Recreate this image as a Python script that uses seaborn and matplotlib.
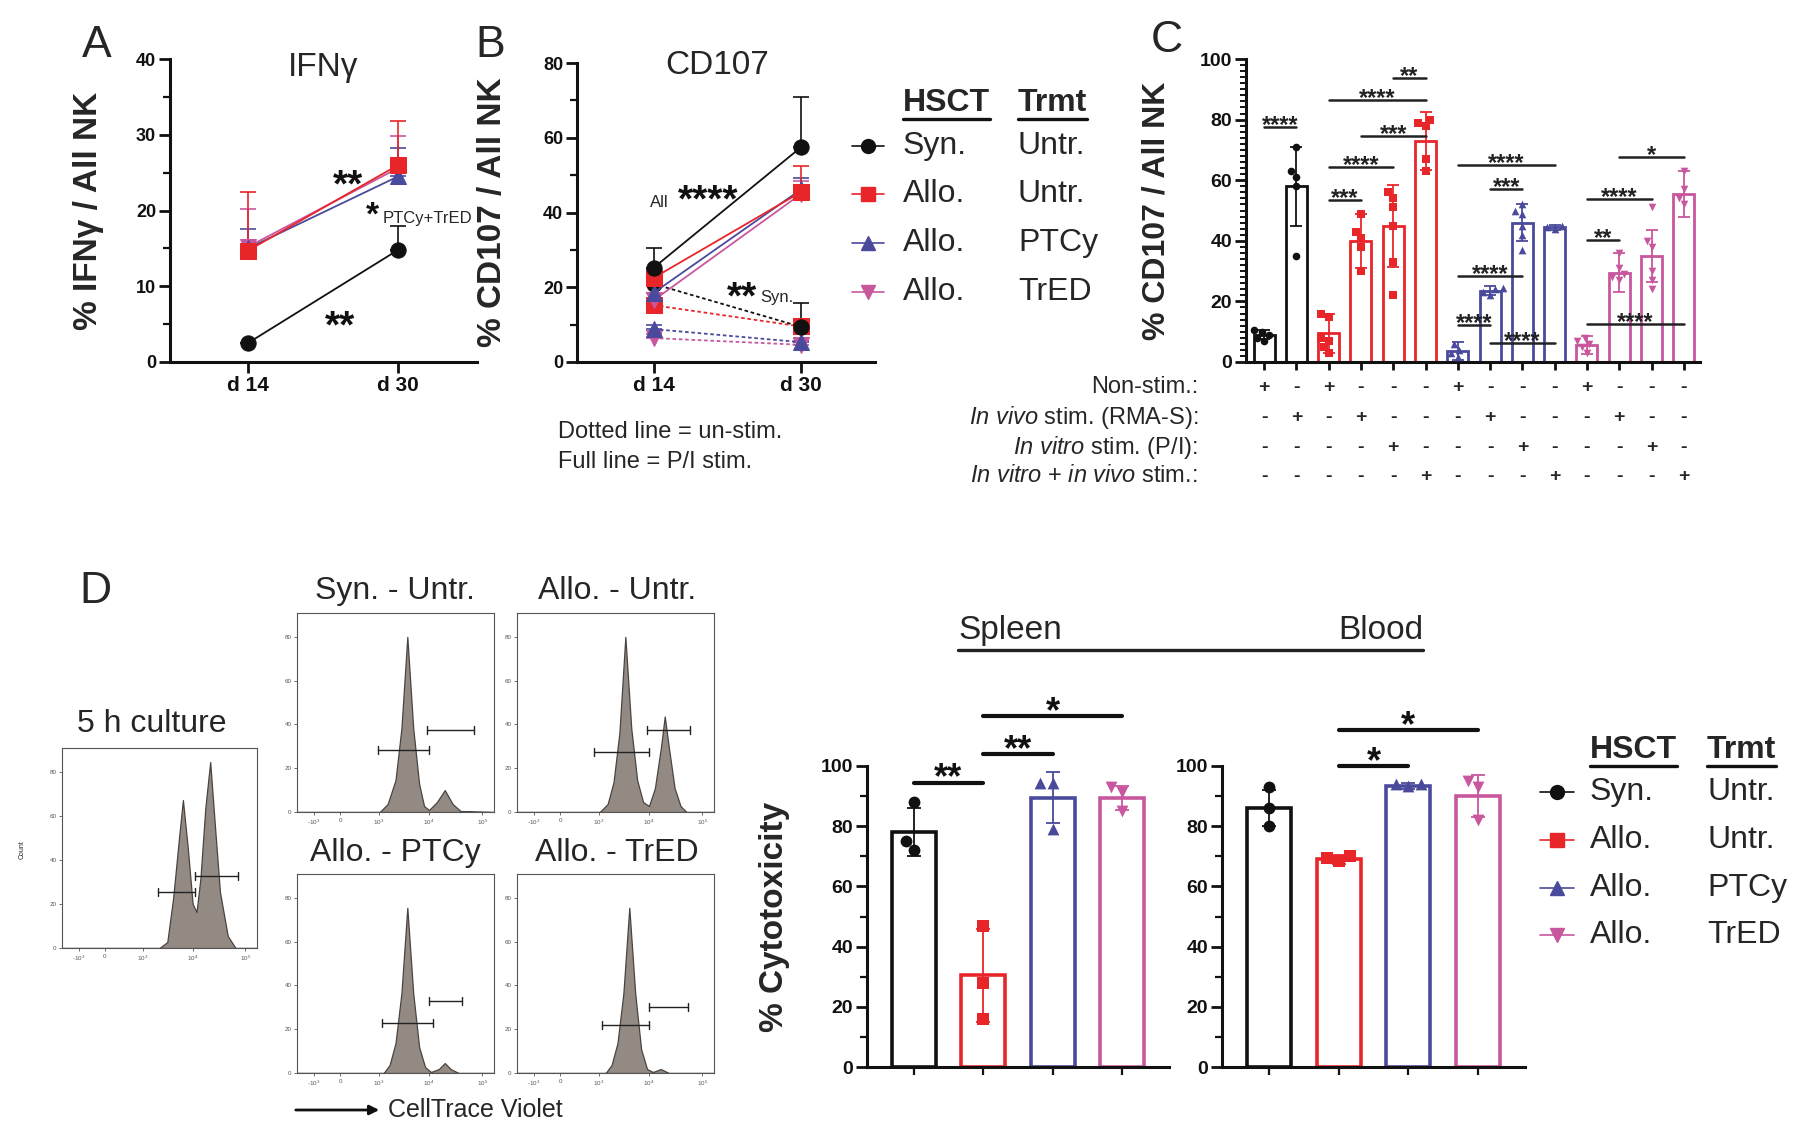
import matplotlib
matplotlib.use("Agg")
import numpy as np
import pandas as pd
import matplotlib.pyplot as plt
import seaborn as sns
from matplotlib.ticker import MultipleLocator
from matplotlib.transforms import blended_transform_factory

# ======================= DATA =======================
groups = ["Syn", "Allo", "PTCy", "TrED"]
hsct_labels = ["Syn.", "Allo.", "Allo.", "Allo."]
trmt_labels = ["Untr.", "Untr.", "PTCy", "TrED"]
group_colors = ["#111111", "#e8262a", "#4a4a9c", "#c8579e"]
group_markers = ["o", "s", "^", "v"]

days = [14, 30]
day_labels = ["d 14", "d 30"]

# Panel A: % IFNg / All NK (mean, upper SD)
ifng_syn = [2.5, 14.8]
ifng_syn_err = [0.0, 3.2]
ifng_allo = [14.7, 26.0]
ifng_allo_err = [7.8, 5.8]
ifng_ptcy = [15.0, 24.5]
ifng_ptcy_err = [2.6, 3.7]
ifng_tred = [15.2, 25.6]
ifng_tred_err = [5.0, 4.3]

# Panel B: % CD107 / All NK, P/I stimulated (full line)
cd_pi_syn = [25.2, 57.5]
cd_pi_syn_err = [5.3, 13.5]
cd_pi_allo = [22.5, 45.5]
cd_pi_allo_err = [2.5, 6.9]
cd_pi_ptcy = [18.5, 46.2]
cd_pi_ptcy_err = [2.0, 3.0]
cd_pi_tred = [16.5, 45.0]
cd_pi_tred_err = [2.0, 3.5]
# Panel B: un-stimulated (dotted line)
cd_un_syn = [20.9, 9.4]
cd_un_syn_err = [1.5, 6.4]
cd_un_allo = [15.2, 9.5]
cd_un_allo_err = [1.5, 2.0]
cd_un_ptcy = [8.8, 5.3]
cd_un_ptcy_err = [1.0, 1.0]
cd_un_tred = [6.4, 4.6]
cd_un_tred_err = [1.0, 1.0]

# Panel C
c_rows = ["Non-stim.:", r"$\mathit{In\ vivo}$ stim. (RMA-S):",
          r"$\mathit{In\ vitro}$ stim. (P/I):",
          r"$\mathit{In\ vitro}$ + $\mathit{in\ vivo}$ stim.:"]
c_bar_group = [0, 0, 1, 1, 1, 1, 2, 2, 2, 2, 3, 3, 3, 3]
c_bar_cond = [0, 1, 0, 1, 2, 3, 0, 1, 2, 3, 0, 1, 2, 3]
c_means = [9.0, 58.0, 9.5, 40.0, 45.0, 73.0, 3.5, 23.5, 46.0, 44.5, 5.5, 29.5, 35.0, 55.5]
c_err = [1.5, 13.0, 6.5, 9.0, 13.5, 9.5, 3.0, 1.5, 6.0, 0.8, 3.0, 6.5, 8.5, 7.5]
c_points = [[7, 8, 9, 10, 10.5], [35, 58, 61, 63, 71], [3, 5, 7, 8, 15, 16],
            [30, 38, 41, 43, 49], [22, 33, 45, 51, 54, 56], [63, 67, 78, 79, 80],
            [1.5, 3, 4, 6], [22, 23, 24, 24.5], [37, 42, 45, 49, 50, 52], [44, 44.5, 45],
            [3, 5, 6, 7, 8], [27, 28, 29, 31, 36], [24, 27, 30, 38, 40, 51], [52, 54, 57, 63]]
c_sig = [(0, 1, 77.6, "****"), (2, 3, 53.5, "***"), (2, 4, 64.4, "****"),
         (2, 5, 86.5, "****"), (3, 5, 74.6, "***"), (4, 5, 93.7, "**"),
         (6, 7, 12.2, "****"), (6, 8, 28.4, "****"), (6, 9, 65.0, "****"),
         (7, 8, 57.1, "***"), (7, 9, 6.3, "****"), (10, 11, 40.3, "**"),
         (10, 12, 53.8, "****"), (11, 13, 67.7, "*"), (10, 13, 12.5, "****")]

# Panel D: cytotoxicity
spleen_means = [78.0, 30.5, 89.5, 89.5]
spleen_err = [8.0, 15.5, 8.5, 4.0]
spleen_points = [[88, 72, 75], [47, 28, 16], [94.5, 94.5, 79], [93, 91.5, 85]]
spleen_sig = [(0, 1, 94.4, "**"), (1, 2, 104.0, "**"), (1, 3, 116.6, "*")]
blood_means = [86.0, 69.0, 93.5, 90.0]
blood_err = [6.0, 1.5, 1.0, 7.0]
blood_points = [[93, 86, 80], [70, 68.5, 69.5], [93.5, 94, 94], [95, 93, 82]]
blood_sig = [(1, 2, 100.0, "*"), (1, 3, 112.0, "*")]

# Panel D: flow histograms (relative CTV position, relative count)
flow_titles = ["5 h culture", "Syn. - Untr.", "Allo. - Untr.", "Allo. - PTCy", "Allo. - TrED"]
flow_5h_x = [0, 0.50, 0.54, 0.57, 0.60, 0.62, 0.645, 0.67, 0.69, 0.71, 0.735, 0.76, 0.785, 0.81, 0.85, 0.89, 1.0]
flow_5h_y = [0, 0, 0.03, 0.25, 0.55, 0.74, 0.50, 0.22, 0.18, 0.35, 0.70, 0.93, 0.60, 0.28, 0.06, 0.0, 0]
flow_syn_x = [0, 0.42, 0.46, 0.50, 0.53, 0.56, 0.59, 0.62, 0.645, 0.67, 0.71, 0.75, 0.79, 0.83, 1]
flow_syn_y = [0, 0, 0.04, 0.16, 0.42, 0.88, 0.42, 0.14, 0.03, 0.01, 0.05, 0.11, 0.04, 0.005, 0]
flow_allo_x = [0, 0.42, 0.46, 0.49, 0.52, 0.55, 0.58, 0.61, 0.64, 0.67, 0.70, 0.73, 0.75, 0.77, 0.80, 0.83, 0.86, 1]
flow_allo_y = [0, 0, 0.04, 0.15, 0.40, 0.88, 0.42, 0.16, 0.05, 0.03, 0.12, 0.32, 0.48, 0.33, 0.12, 0.03, 0, 0]
flow_ptcy_x = [0, 0.44, 0.47, 0.50, 0.53, 0.56, 0.59, 0.62, 0.65, 0.68, 0.72, 0.75, 0.78, 0.82, 1]
flow_ptcy_y = [0, 0, 0.04, 0.15, 0.40, 0.83, 0.40, 0.13, 0.03, 0.005, 0.02, 0.05, 0.02, 0, 0]
flow_tred_x = [0, 0.45, 0.48, 0.51, 0.54, 0.57, 0.60, 0.63, 0.66, 0.69, 0.73, 0.77, 1]
flow_tred_y = [0, 0, 0.04, 0.15, 0.40, 0.83, 0.40, 0.12, 0.02, 0.005, 0.02, 0, 0]
flow_gates = [[(0.49, 0.68, 0.28), (0.68, 0.90, 0.36)],
              [(0.41, 0.67, 0.31), (0.66, 0.90, 0.41)],
              [(0.39, 0.67, 0.30), (0.66, 0.88, 0.41)],
              [(0.43, 0.69, 0.25), (0.67, 0.84, 0.36)],
              [(0.43, 0.67, 0.24), (0.67, 0.87, 0.33)]]
flow_xtick_labels = ["-10$^3$", "0", "10$^3$", "10$^4$", "10$^5$"]
flow_ytick_labels = ["0", "20", "40", "60", "80"]

# ======================= STYLE =======================
sns.set_theme(style="ticks", rc={"axes.edgecolor": "#111111", "xtick.color": "#111111",
                                 "ytick.color": "#111111", "axes.facecolor": "none"})
plt.rcParams['font.family'] = ['Liberation Sans', 'DejaVu Sans']
plt.rcParams['mathtext.fontset'] = 'custom'
plt.rcParams['mathtext.rm'] = 'Liberation Sans'
plt.rcParams['mathtext.it'] = 'Liberation Sans:italic'
plt.rcParams['mathtext.bf'] = 'Liberation Sans:bold'

W, H = 1800, 1122
fig = plt.figure(figsize=(18, 11.22), dpi=100)
fig.patch.set_facecolor("white")


def rect(l, t, r, b):
    return [l / W, 1 - b / H, (r - l) / W, (b - t) / H]


def style_axes(ax, yticks, tick_size=13):
    sns.despine(ax=ax)
    for s in ["left", "bottom"]:
        ax.spines[s].set_linewidth(2.2)
    ax.tick_params(axis="both", which="major", length=8, width=2, direction="out", pad=2)
    ax.tick_params(axis="both", which="minor", length=5, width=1.6, direction="out")
    ax.set_yticks(yticks)
    ax.set_yticklabels([str(v) for v in yticks], fontsize=tick_size, fontweight="bold")
    ax.grid(False)


def stars(ax, x, y, s, fs, gap_pt, coords="data", color="#111111"):
    """Asterisks whose glyph bottom sits about gap_pt above the point (x, y)."""
    tr = ax.transData if coords == "data" else ax.transAxes
    ax.annotate(s, xy=(x, y), xycoords=tr, xytext=(0, gap_pt - 0.43 * fs),
                textcoords="offset points", ha="center", va="baseline",
                fontsize=fs, fontweight="bold", color=color, annotation_clip=False, zorder=7)


# ======================= PANEL A =======================
axA = fig.add_axes(rect(170, 59, 477, 362))
A_series = [(ifng_syn, ifng_syn_err), (ifng_allo, ifng_allo_err),
            (ifng_ptcy, ifng_ptcy_err), (ifng_tred, ifng_tred_err)]
for gi in [0, 3, 2, 1]:
    vals, errs = A_series[gi]
    c = group_colors[gi]
    axA.errorbar(days, vals, yerr=[[0, 0], errs], fmt="none", ecolor=c,
                 elinewidth=1.2, capsize=6, capthick=1.2, zorder=3)
    sns.lineplot(x=days, y=vals, ax=axA, color=c, marker=group_markers[gi], markersize=11,
                 markeredgecolor=c, linewidth=1.3, zorder=4)
axA.set_xlim(5.7, 38.4)
axA.set_ylim(0, 40)
style_axes(axA, [0, 10, 20, 30, 40])
axA.yaxis.set_minor_locator(MultipleLocator(5))
axA.set_xticks(days)
axA.set_xticklabels(day_labels, fontsize=15, fontweight="bold")
axA.set_ylabel("% IFNγ / All NK", fontsize=24, fontweight="bold")
axA.yaxis.set_label_coords(-0.215, 0.5)
axA.set_xlabel("")
stars(axA, 0.58, 0.60, "**", 28, 0, coords="axes")
stars(axA, 0.555, 0.135, "**", 28, 0, coords="axes")
stars(axA, 0.66, 0.50, "*", 24, 0, coords="axes")
axA.text(0.84, 0.475, "PTCy+TrED", transform=axA.transAxes, fontsize=12, ha="center", va="center")

# ======================= PANEL B =======================
axB = fig.add_axes(rect(577, 63, 875, 362))
B_pi = [(cd_pi_syn, cd_pi_syn_err), (cd_pi_allo, cd_pi_allo_err),
        (cd_pi_ptcy, cd_pi_ptcy_err), (cd_pi_tred, cd_pi_tred_err)]
B_un = [(cd_un_syn, cd_un_syn_err), (cd_un_allo, cd_un_allo_err),
        (cd_un_ptcy, cd_un_ptcy_err), (cd_un_tred, cd_un_tred_err)]
for series, ls in [(B_un, (0, (2, 1.5))), (B_pi, "-")]:
    for gi in [3, 2, 1, 0]:
        vals, errs = series[gi]
        c = group_colors[gi]
        axB.errorbar(days, vals, yerr=[[0, 0], errs], fmt="none", ecolor=c,
                     elinewidth=1.2, capsize=6, capthick=1.2, zorder=3)
        sns.lineplot(x=days, y=vals, ax=axB, color=c, marker=group_markers[gi], markersize=11,
                     markeredgecolor=c, linewidth=1.3, linestyle=ls, zorder=4)
axB.set_xlim(5.7, 38.0)
axB.set_ylim(0, 80)
style_axes(axB, [0, 20, 40, 60, 80])
axB.yaxis.set_minor_locator(MultipleLocator(10))
axB.set_xticks(days)
axB.set_xticklabels(day_labels, fontsize=15, fontweight="bold")
axB.set_ylabel("% CD107 / All NK", fontsize=24, fontweight="bold")
axB.yaxis.set_label_coords(-0.23, 0.5)
axB.set_xlabel("")
axB.text(0.275, 0.535, "All", transform=axB.transAxes, fontsize=12, ha="center", va="center")
stars(axB, 0.44, 0.56, "****", 28, 0, coords="axes")
stars(axB, 0.555, 0.235, "**", 28, 0, coords="axes")
axB.text(0.67, 0.215, "Syn.", transform=axB.transAxes, fontsize=12, ha="center", va="center")

# ======================= PANEL C =======================
axC = fig.add_axes(rect(1246, 59, 1700, 362))
c_ids = ["bar%02d" % i for i in range(len(c_means))]
dfC = pd.DataFrame({"bar": c_ids, "value": c_means})
sns.barplot(data=dfC, x="bar", y="value", order=c_ids, color="white", width=0.65,
            errorbar=None, ax=axC, zorder=2)
for p, gi in zip(axC.patches, c_bar_group):
    p.set_facecolor("white")
    p.set_edgecolor(group_colors[gi])
    p.set_linewidth(2.0)
for i, pts in enumerate(c_points):
    gi = c_bar_group[i]
    sns.swarmplot(x=[c_ids[i]] * len(pts), y=pts, order=c_ids, ax=axC, color=group_colors[gi],
                  marker=group_markers[gi], size=5.5, zorder=4)
for i in range(len(c_means)):
    c = group_colors[c_bar_group[i]]
    axC.errorbar(i, c_means[i], yerr=c_err[i], fmt="none", ecolor=c, elinewidth=1.3,
                 capsize=4, capthick=1.3, zorder=5)
for (i, j, y, lab) in c_sig:
    axC.plot([i, j], [y, y], color="#222222", lw=1.8, clip_on=False, zorder=6)
    stars(axC, (i + j) / 2, y, lab, 17, 3.5, color="#222222")
axC.set_xlim(-0.56, 13.5)
axC.set_ylim(0, 100)
style_axes(axC, [0, 20, 40, 60, 80, 100], tick_size=14)
axC.yaxis.set_minor_locator(MultipleLocator(2))
axC.tick_params(axis="y", which="minor", length=4, width=1.4)
axC.set_xticks(range(len(c_means)))
axC.set_xticklabels([""] * len(c_means))
axC.tick_params(axis="x", which="major", length=6)
axC.set_xlabel("")
axC.set_ylabel("% CD107 / All NK", fontsize=23, fontweight="bold")
axC.yaxis.set_label_coords(-0.165, 0.5)

# ======================= PANEL D: bars =======================
def cyto_panel(px, means, errs, points, sigs, ylabel):
    ax = fig.add_axes(rect(*px))
    ids = ["g%d" % i for i in range(4)]
    df = pd.DataFrame({"grp": ids, "value": means})
    sns.barplot(data=df, x="grp", y="value", order=ids, color="white", width=0.63,
                errorbar=None, ax=ax, zorder=2)
    for p, c in zip(ax.patches, group_colors):
        p.set_facecolor("white")
        p.set_edgecolor(c)
        p.set_linewidth(2.6)
    for i, pts in enumerate(points):
        sns.swarmplot(x=[ids[i]] * len(pts), y=pts, order=ids, ax=ax, color=group_colors[i],
                      marker=group_markers[i], size=8.5, zorder=4)
        ax.errorbar(i, means[i], yerr=errs[i], fmt="none", ecolor=group_colors[i],
                    elinewidth=1.3, capsize=5, capthick=1.3, zorder=5)
    for (i, j, y, lab) in sigs:
        ax.plot([i, j], [y, y], color="#111111", lw=3, clip_on=False, zorder=6)
        stars(ax, (i + j) / 2, y, lab, 26, 7)
    ax.set_xlim(-0.67, 3.67)
    ax.set_ylim(0, 100)
    style_axes(ax, [0, 20, 40, 60, 80, 100], tick_size=14)
    ax.yaxis.set_minor_locator(MultipleLocator(10))
    ax.set_xticks(range(4))
    ax.set_xticklabels([""] * 4)
    ax.tick_params(axis="x", which="major", length=6, width=1.6)
    ax.set_xlabel("")
    ax.set_ylabel(ylabel, fontsize=24, fontweight="bold")
    ax.yaxis.set_label_coords(-0.255, 0.5)
    return ax

axSp = cyto_panel((867, 766, 1169, 1067), spleen_means, spleen_err, spleen_points, spleen_sig,
                  "% Cytotoxicity")
axBl = cyto_panel((1222, 766, 1525, 1067), blood_means, blood_err, blood_points, blood_sig, "")

# ======================= PANEL D: flow histograms =======================
flow_boxes = [(62, 748, 257, 948), (297, 613, 494, 812), (517, 613, 714, 812),
              (297, 874, 494, 1073), (517, 874, 714, 1073)]
flow_data = [(flow_5h_x, flow_5h_y), (flow_syn_x, flow_syn_y), (flow_allo_x, flow_allo_y),
             (flow_ptcy_x, flow_ptcy_y), (flow_tred_x, flow_tred_y)]
flow_title_pos = [(152, 724), (395, 591), (617, 591), (395, 853), (617, 853)]
for k in range(5):
    ax = fig.add_axes(rect(*flow_boxes[k]))
    xs, ys = flow_data[k]
    ax.fill_between(xs, ys, color="#948a84", edgecolor="#4a4440", linewidth=0.9, zorder=2)
    for (x0, x1, y) in flow_gates[k]:
        ax.plot([x0, x1], [y, y], color="#222222", lw=1.0, zorder=3)
        ax.plot([x0, x0], [y - 0.02, y + 0.02], color="#222222", lw=1.0, zorder=3)
        ax.plot([x1, x1], [y - 0.02, y + 0.02], color="#222222", lw=1.0, zorder=3)
    ax.set_xlim(0, 1)
    ax.set_ylim(0, 1)
    for s in ax.spines.values():
        s.set_visible(True)
        s.set_linewidth(0.8)
        s.set_color("#555555")
    ax.set_xticks([0.085, 0.22, 0.415, 0.67, 0.94])
    ax.set_xticklabels(flow_xtick_labels, fontsize=4.5, color="#444444")
    ax.set_yticks([0.0, 0.22, 0.44, 0.66, 0.88])
    ax.set_yticklabels(flow_ytick_labels, fontsize=4.5, color="#444444")
    ax.tick_params(length=2.5, width=0.6, pad=1.5, colors="#555555")
    ax.grid(False)
    ax.set_facecolor("white")

# ======================= OVERLAY TEXT =======================
ov = fig.add_axes([0, 0, 1, 1], zorder=20)
ov.set_xlim(0, W)
ov.set_ylim(H, 0)
ov.axis("off")
ov.patch.set_visible(False)
renderer = fig.canvas.get_renderer()


def underline_text(x, y, s, **kw):
    t = ov.text(x, y, s, **kw)
    bb = t.get_window_extent(renderer=renderer)
    ov.plot([bb.x0, bb.x1], [H - bb.y0 + 1, H - bb.y0 + 1], color="#111111", lw=2.4)
    return t

# Panel letters
for lab, (x, y) in zip("ABCD", [(97, 45), (490, 45), (1167, 40), (95, 591)]):
    ov.text(x, y, lab, fontsize=32, ha="center", va="center")

# Titles
ov.text(323, 67, "IFNγ", fontsize=24, ha="center", va="center")
ov.text(717, 65, "CD107", fontsize=24, ha="center", va="center")
ov.text(558, 432, "Dotted line = un-stim.", fontsize=17, ha="left", va="center")
ov.text(558, 462, "Full line = P/I stim.", fontsize=17, ha="left", va="center")

# Legend 1 (between B and C)
underline_text(903, 103, "HSCT", fontsize=23, fontweight="bold", ha="left", va="center")
underline_text(1018, 103, "Trmt", fontsize=23, fontweight="bold", ha="left", va="center")
for gi, y in enumerate([146, 194, 243, 292]):
    c = group_colors[gi]
    ov.plot([852, 884], [y, y], color=c, lw=1.2)
    ov.plot(868, y, marker=group_markers[gi], color=c, markersize=10, markeredgecolor=c)
    ov.text(903, y, hsct_labels[gi], fontsize=23, ha="left", va="center")
    ov.text(1018, y, trmt_labels[gi], fontsize=23, ha="left", va="center")

# Legend 2 (right of panel D)
underline_text(1590, 750, "HSCT", fontsize=23, fontweight="bold", ha="left", va="center")
underline_text(1707, 750, "Trmt", fontsize=23, fontweight="bold", ha="left", va="center")
for gi, y in enumerate([792, 840, 888, 935]):
    c = group_colors[gi]
    ov.plot([1540, 1574], [y, y], color=c, lw=1.2)
    ov.plot(1557, y, marker=group_markers[gi], color=c, markersize=10, markeredgecolor=c)
    ov.text(1590, y, hsct_labels[gi], fontsize=23, ha="left", va="center")
    ov.text(1707, y, trmt_labels[gi], fontsize=23, ha="left", va="center")

# Panel C condition table
tr = blended_transform_factory(axC.transData, ov.transData)
for r, (lab, y) in enumerate(zip(c_rows, [387, 417, 447, 476])):
    ov.text(1198, y, lab, fontsize=17, ha="right", va="center")
    for i, cond in enumerate(c_bar_cond):
        sign = "+" if cond == r else "-"
        ov.text(i, y, sign, transform=tr, fontsize=14, fontweight="bold", ha="center", va="center")

# Spleen / Blood header
ov.text(1010, 630, "Spleen", fontsize=24, ha="center", va="center")
ov.text(1381, 630, "Blood", fontsize=24, ha="center", va="center")
ov.plot([958, 1423], [650, 650], color="#222222", lw=2.4)

# Flow titles and axis label
for k in range(5):
    x, y = flow_title_pos[k]
    ov.text(x, y, flow_titles[k], fontsize=23, ha="center", va="center")
ov.text(22, 850, "Count", fontsize=5, rotation=90, ha="center", va="center")
ov.annotate("", xy=(382, 1110), xytext=(293, 1110),
            arrowprops=dict(arrowstyle="-|>", lw=2, color="#111111", mutation_scale=14))
ov.text(388, 1110, "CellTrace Violet", fontsize=18, ha="left", va="center")

fig.savefig("out.png", dpi=100, facecolor="white")
